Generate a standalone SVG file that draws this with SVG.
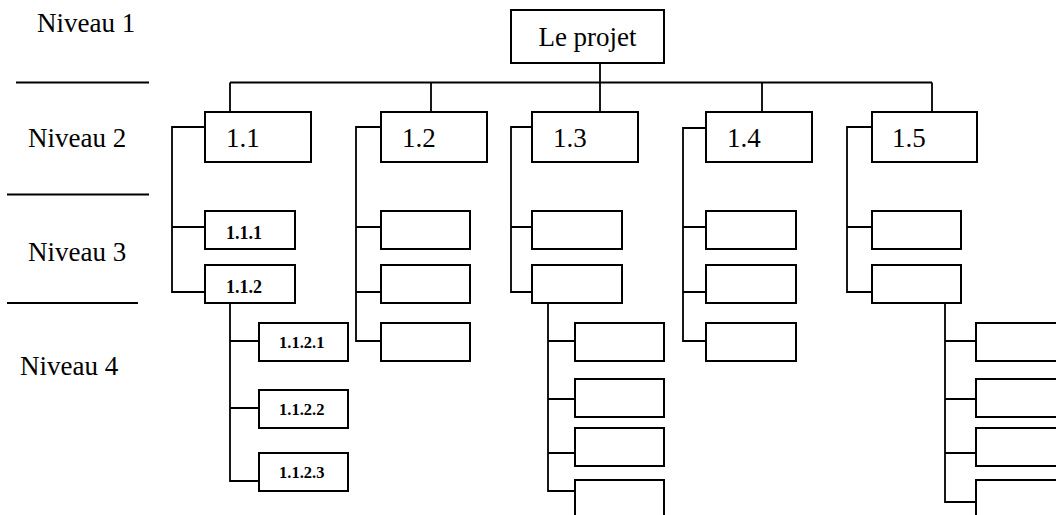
<svg xmlns="http://www.w3.org/2000/svg" width="1056" height="515" viewBox="0 0 1056 515">
  <style>
    .box { fill: #fff; stroke: #000; stroke-width: 2; }
    .wire { fill: none; stroke: #000; stroke-width: 1.8; }
    .lvl { font-family: "Liberation Serif", "Times New Roman", serif; font-size: 27px; fill: #000; }
    .big { font-family: "Liberation Serif", "Times New Roman", serif; font-size: 27px; fill: #000; }
    .mid { font-family: "Liberation Serif", "Times New Roman", serif; font-size: 18px; font-weight: bold; fill: #000; }
    .small { font-family: "Liberation Serif", "Times New Roman", serif; font-size: 16.5px; font-weight: bold; fill: #000; }
  </style>
  <rect width="1056" height="515" fill="#fff"/>

  <!-- level legend on the left -->
  <g id="legend">
    <text class="lvl" x="37" y="32">Niveau 1</text>
    <text class="lvl" x="28" y="147">Niveau 2</text>
    <text class="lvl" x="28" y="261">Niveau 3</text>
    <text class="lvl" x="20" y="375">Niveau 4</text>
    <path class="wire" d="M16,82.5 H149 M7,194.5 H149 M7,303 H138"/>
  </g>

  <!-- connectors -->
  <g id="connectors" class="wire">
    <path d="M600,63 V82.5 M230,82.5 H932 M230,82.5 V112 M431,82.5 V112 M600,82.5 V112 M762,82.5 V112 M932,82.5 V112"/>
    <path d="M205,127 H172 V292 H205 M172,227 H205"/>
    <path d="M381,127 H356 V341 H381 M356,227 H381 M356,292 H381"/>
    <path d="M532,127 H511 V292 H532 M511,227 H532"/>
    <path d="M706,128 H683 V341 H706 M683,227 H706 M683,292 H706"/>
    <path d="M872,127 H847 V292 H872 M847,227 H872"/>
    <path d="M230,303 V481 H259 M230,341 H259 M230,408 H259"/>
    <path d="M548,303 V491 H575 M548,341 H575 M548,399 H575 M548,453 H575"/>
    <path d="M945,303 V502 H976 M945,341 H976 M945,399 H976 M945,453 H976"/>
  </g>

  <!-- level 1 -->
  <g id="root">
    <rect class="box" x="511" y="10" width="153" height="53"/>
    <text class="big" x="587.5" y="46" text-anchor="middle">Le projet</text>
  </g>

  <!-- level 2 -->
  <g id="n1-1"><rect class="box" x="205" y="112" width="106" height="50"/><text class="big" x="226" y="147">1.1</text></g>
  <g id="n1-2"><rect class="box" x="381" y="112" width="106" height="50"/><text class="big" x="402" y="147">1.2</text></g>
  <g id="n1-3"><rect class="box" x="532" y="112" width="106" height="50"/><text class="big" x="553" y="147">1.3</text></g>
  <g id="n1-4"><rect class="box" x="706" y="112" width="106" height="50"/><text class="big" x="727" y="147">1.4</text></g>
  <g id="n1-5"><rect class="box" x="872" y="112" width="105" height="50"/><text class="big" x="892" y="147">1.5</text></g>

  <!-- level 3 -->
  <g id="n1-1-1"><rect class="box" x="205" y="211" width="90" height="38"/><text class="mid" x="226" y="239">1.1.1</text></g>
  <g id="n1-1-2"><rect class="box" x="205" y="265" width="90" height="38"/><text class="mid" x="226" y="293">1.1.2</text></g>

  <g id="n1-2-1"><rect class="box" x="381" y="211" width="89" height="38"/></g>
  <g id="n1-2-2"><rect class="box" x="381" y="265" width="89" height="38"/></g>
  <g id="n1-2-3"><rect class="box" x="381" y="323" width="89" height="38"/></g>

  <g id="n1-3-1"><rect class="box" x="532" y="211" width="90" height="38"/></g>
  <g id="n1-3-2"><rect class="box" x="532" y="265" width="90" height="38"/></g>

  <g id="n1-4-1"><rect class="box" x="706" y="211" width="90" height="38"/></g>
  <g id="n1-4-2"><rect class="box" x="706" y="265" width="90" height="38"/></g>
  <g id="n1-4-3"><rect class="box" x="706" y="323" width="90" height="38"/></g>

  <g id="n1-5-1"><rect class="box" x="872" y="211" width="89" height="38"/></g>
  <g id="n1-5-2"><rect class="box" x="872" y="265" width="89" height="38"/></g>

  <!-- level 4 -->
  <g id="n1-1-2-1"><rect class="box" x="259" y="323" width="89" height="38"/><text class="small" x="279" y="348">1.1.2.1</text></g>
  <g id="n1-1-2-2"><rect class="box" x="259" y="390" width="89" height="38"/><text class="small" x="279" y="415">1.1.2.2</text></g>
  <g id="n1-1-2-3"><rect class="box" x="259" y="453" width="89" height="38"/><text class="small" x="279" y="478">1.1.2.3</text></g>

  <g id="n1-3-2-1"><rect class="box" x="575" y="323" width="89" height="38"/></g>
  <g id="n1-3-2-2"><rect class="box" x="575" y="379" width="89" height="38"/></g>
  <g id="n1-3-2-3"><rect class="box" x="575" y="428" width="89" height="38"/></g>
  <g id="n1-3-2-4"><rect class="box" x="575" y="480" width="89" height="60"/></g>

  <g id="n1-5-2-1"><rect class="box" x="976" y="323" width="100" height="38"/></g>
  <g id="n1-5-2-2"><rect class="box" x="976" y="379" width="100" height="38"/></g>
  <g id="n1-5-2-3"><rect class="box" x="976" y="428" width="100" height="38"/></g>
  <g id="n1-5-2-4"><rect class="box" x="976" y="480" width="100" height="60"/></g>
</svg>
